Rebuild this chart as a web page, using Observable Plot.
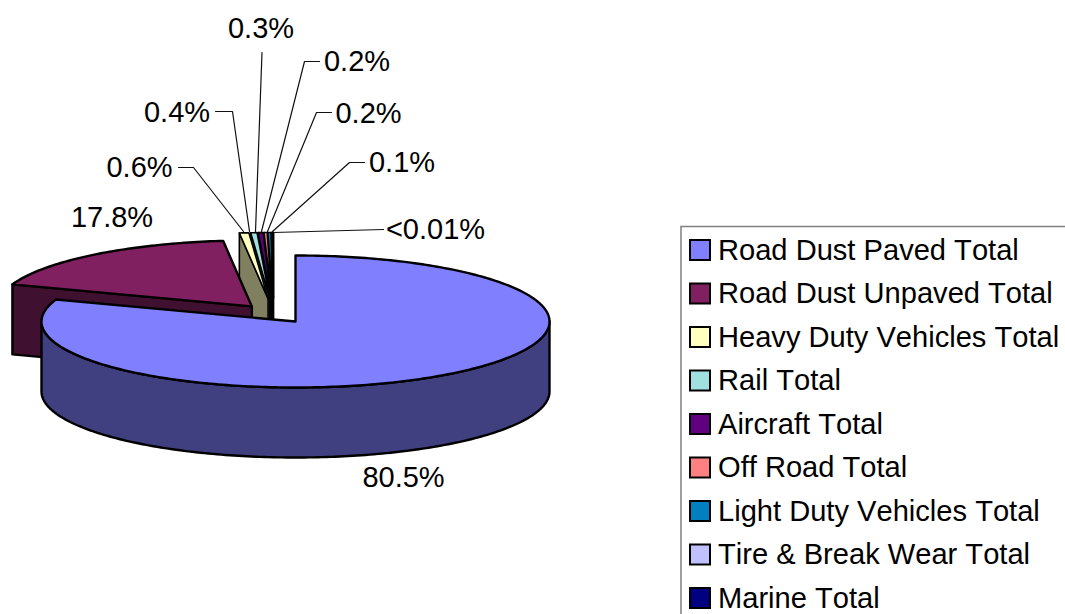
<!DOCTYPE html>
<html>
<head>
<meta charset="utf-8">
<style>html,body{margin:0;padding:0;background:#fff;overflow:hidden}svg{display:block}</style>
<script src="https://cdn.jsdelivr.net/npm/d3@7"></script>
<script src="https://cdn.jsdelivr.net/npm/@observablehq/plot@0.6"></script>
</head>
<body>
<script>
// DATA
const categories = ["Road Dust Paved Total","Road Dust Unpaved Total","Heavy Duty Vehicles Total","Rail Total","Aircraft Total","Off Road Total","Light Duty Vehicles Total","Tire & Break Wear Total","Marine Total"];
const values = [80.5,17.8,0.6,0.4,0.3,0.2,0.2,0.1,0.005];
const valueLabels = ["80.5%","17.8%","0.6%","0.4%","0.3%","0.2%","0.2%","0.1%","<0.01%"];
const fills = ["#8080FF","#802060","#FFFFC0","#A0E0E0","#600080","#FF8080","#0080C0","#C0C0FF","#000080"];
const wallFills = ["#404080","#401030","#808060","#507070","#300040","#804040","#004060","#606080","#000040"];
const explosions = [0.149,0.137,0.227,0.227,0.227,0.227,0.227,0.227,0.227];

// LAYOUT
const W = 1065, H = 614;
const cx = 273, cy = 313, rx = 254, ry = 66, depth = 70;
const labelPos = [[403,477],[111.5,217],[139,167],[176.5,112],[260.5,28],[356.5,61],[368,113],[401.5,162],[435,229]];
const leaders = [null,null,
  [[178,167],[193,167],[243,231]],
  [[215,111],[232,111],[249,231]],
  [[261.5,52],[255,231]],
  [[319,61],[304,61],[261,231]],
  [[331,112],[316,112],[267,231]],
  [[364,162],[349,162],[272,231]],
  [[383,229],[273,232]]];
const legend = {x1:681,y1:226.5,x2:1075,y2:625,swatchX:690,swatch:20,textX:717.5,firstY:250,step:43.5};

// GEOMETRY derived from the values
const total = d3.sum(values);
const rad = d => d * Math.PI * 2;
let acc = 0;
const slices = values.map((v,i) => {
  const a0 = acc / total, a1 = (acc + v) / total; acc += v;
  const m = rad((a0 + a1) / 2), e = explosions[i];
  return {i, a0, a1, ax: cx + rx * e * Math.sin(m), ay: cy - ry * e * Math.cos(m)};
});
slices[0].ax = 295; slices[0].ay = 321;
const rim = (s,a,dz=0) => ({x: s.ax + rx * Math.sin(rad(a)), y: s.ay - ry * Math.cos(rad(a)) + dz});
const arc = (s,a0,a1,dz=0) => {
  const n = Math.max(2, Math.ceil(Math.abs(a1-a0)*360));
  return d3.range(n+1).map(k => rim(s, a0 + (a1-a0)*k/n, dz));
};
const close = p => [...p, p[0]];
const topFace = s => close([{x:s.ax,y:s.ay}, ...arc(s,s.a0,s.a1)]);
const cutWall = s => { const r = rim(s,s.a0); return close([r,{x:s.ax,y:s.ay},{x:s.ax,y:s.ay+depth},{x:r.x,y:r.y+depth}]); };
const rimWall = s => close([...arc(s,0.25,0.75), ...arc(s,0.75,0.25,depth)]);

const piece = (pts,fill,sw=2.4) => Plot.line(pts,{x:"x",y:"y",fill,stroke:"#000",strokeWidth:sw,strokeLinejoin:"round"});
const marks = [];
// small slices, back to front
slices.slice(2).reverse().forEach(s => {
  marks.push(piece(cutWall(s),wallFills[s.i],1.6));
  marks.push(piece(topFace(s),fills[s.i],1.6));
});
// unpaved
marks.push(piece(cutWall(slices[1]),wallFills[1]), piece(topFace(slices[1]),fills[1]));
// paved
marks.push(piece(rimWall(slices[0]),wallFills[0]), piece(topFace(slices[0]),fills[0]));
// leaders
leaders.forEach(l => { if (l) marks.push(Plot.line(l,{x:d=>d[0],y:d=>d[1],stroke:"#111",strokeWidth:1.2})); });
// value labels
const labelRows = valueLabels.map((t,i)=>({t,x:labelPos[i][0],y:labelPos[i][1]}));
marks.push(Plot.text(labelRows,{x:"x",y:"y",text:"t",textAnchor:"middle",fontSize:29,fill:"#000"}));
// legend
const legendRows = categories.map((c,i)=>({c,i,y:legend.firstY+i*legend.step}));
marks.push(Plot.rect([legend],{x1:"x1",x2:"x2",y1:"y1",y2:"y2",fill:"#fff",stroke:"#808080",strokeWidth:1.5}));
marks.push(Plot.rect(legendRows,{x1:()=>legend.swatchX,x2:()=>legend.swatchX+legend.swatch,y1:d=>d.y-legend.swatch/2,y2:d=>d.y+legend.swatch/2,fill:d=>fills[d.i],stroke:"#000",strokeWidth:2}));
marks.push(Plot.text(legendRows,{x:()=>legend.textX,y:"y",text:"c",textAnchor:"start",fontSize:29.1,fill:"#000"}));

const chart = Plot.plot({
  width:W,height:H,margin:0,
  x:{domain:[0,W],range:[0,W],axis:null},
  y:{domain:[0,H],range:[0,H],axis:null},
  style:{fontFamily:"'Liberation Sans',Arial,sans-serif",background:"#fff",overflow:"hidden",fontKerning:"none"},
  marks
});
document.body.appendChild(chart);
</script>
</body>
</html>
